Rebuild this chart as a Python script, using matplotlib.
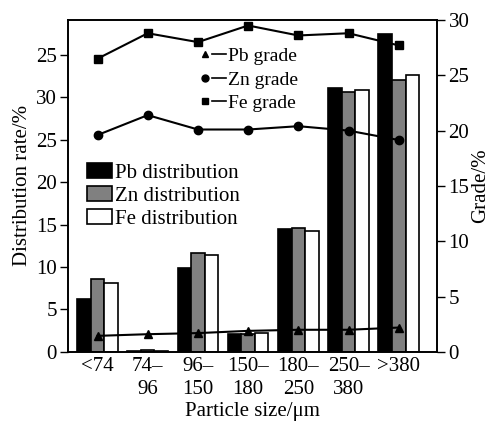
import numpy as np
import matplotlib.pyplot as plt
from matplotlib.lines import Line2D
from matplotlib.patches import Patch
from matplotlib.legend_handler import HandlerTuple

plt.rcParams['font.family'] = ['Liberation Serif', 'DejaVu Serif']
plt.rcParams['mathtext.fontset'] = 'stix'

# particle size classes
sizes = ['<74', '74–\n96', '96–\n150', '150–\n180', '180–\n250', '250–\n380', '>380']

# distribution rate, %
pb_dist = [6.25, 0.15, 9.85, 2.1, 14.5, 31.1, 37.5]
zn_dist = [8.55, 0.2, 11.7, 2.1, 14.6, 30.6, 32.0]
fe_dist = [8.1, 0.15, 11.4, 2.2, 14.3, 30.9, 32.6]

# grade, %
pb_grade = [1.45, 1.6, 1.7, 1.9, 2.0, 2.0, 2.2]
zn_grade = [19.6, 21.4, 20.1, 20.1, 20.4, 20.0, 19.15]
fe_grade = [26.5, 28.8, 28.0, 29.5, 28.6, 28.8, 27.7]

left_ticks = [0, 5, 10, 15, 20, 25, 30, 35]
left_labels = ['0', '5', '10', '15', '20', '25', '30', '25']

fs = 15

fig = plt.figure(figsize=(4.92, 4.25), dpi=100)
ax = fig.add_axes([0.138, 0.172, 0.751, 0.781])
ax2 = ax.twinx()

x = np.arange(len(sizes))
w = 0.27
ax.bar(x - w, pb_dist, w, color='black', edgecolor='black', linewidth=1.2)
ax.bar(x, zn_dist, w, color='#808080', edgecolor='black', linewidth=1.2)
ax.bar(x + w, fe_dist, w, color='white', edgecolor='black', linewidth=1.2)

ax.set_xlim(-0.59, 6.77)
ax.set_ylim(0, 39.1)
ax.set_yticks(left_ticks)
ax.set_yticklabels(left_labels)
ax.set_xticks(x)
ax.set_xticklabels(sizes, linespacing=1.25)
ax.tick_params(axis='x', length=0, labelsize=fs, pad=4)
ax.tick_params(axis='y', direction='out', length=6, width=1, labelsize=fs, pad=2)
ax.set_ylabel('Distribution rate/%', fontsize=fs, labelpad=3)
ax.set_xlabel('Particle size/μm', fontsize=fs, labelpad=2)

ax2.plot(x, pb_grade, color='black', marker='^', markersize=6, linewidth=1.5)
ax2.plot(x, zn_grade, color='black', marker='o', markersize=6, linewidth=1.5)
ax2.plot(x, fe_grade, color='black', marker='s', markersize=5.5, linewidth=1.5)
ax2.set_ylim(0, 30)
ax2.set_yticks([0, 5, 10, 15, 20, 25, 30])
ax2.tick_params(axis='y', direction='out', length=6, width=1, labelsize=fs, pad=2)
ax2.set_ylabel('Grade/%', fontsize=fs, labelpad=1)

for a in (ax, ax2):
    for s in a.spines.values():
        s.set_linewidth(1.2)

# grade legend: marker followed by a short line
def grade_handle(m, ms):
    mk = Line2D([], [], color='black', marker=m, markersize=ms, linestyle='none')
    ln = Line2D([], [], color='black', linewidth=1.2)
    return (mk, ln)

g_handles = [grade_handle('^', 5), grade_handle('o', 5), grade_handle('s', 4.5)]
leg1 = ax2.legend(g_handles, ['Pb grade', 'Zn grade', 'Fe grade'],
                  handler_map={tuple: HandlerTuple(ndivide=2, pad=0)},
                  loc='upper left', bbox_to_anchor=(0.33, 0.94), frameon=False,
                  fontsize=14, handlelength=1.45, handletextpad=0.1,
                  labelspacing=0.3, borderaxespad=0)

b_handles = [Patch(facecolor='black', edgecolor='black', linewidth=1.2),
             Patch(facecolor='#808080', edgecolor='black', linewidth=1.2),
             Patch(facecolor='white', edgecolor='black', linewidth=1.2)]
leg2 = ax2.legend(b_handles, ['Pb distribution', 'Zn distribution', 'Fe distribution'],
                  loc='upper left', bbox_to_anchor=(0.03, 0.595), frameon=False,
                  fontsize=fs, handlelength=1.2, handleheight=0.75, handletextpad=0.15,
                  labelspacing=0.15, borderaxespad=0)
ax2.add_artist(leg1)

fig.savefig('out.png', dpi=100)
